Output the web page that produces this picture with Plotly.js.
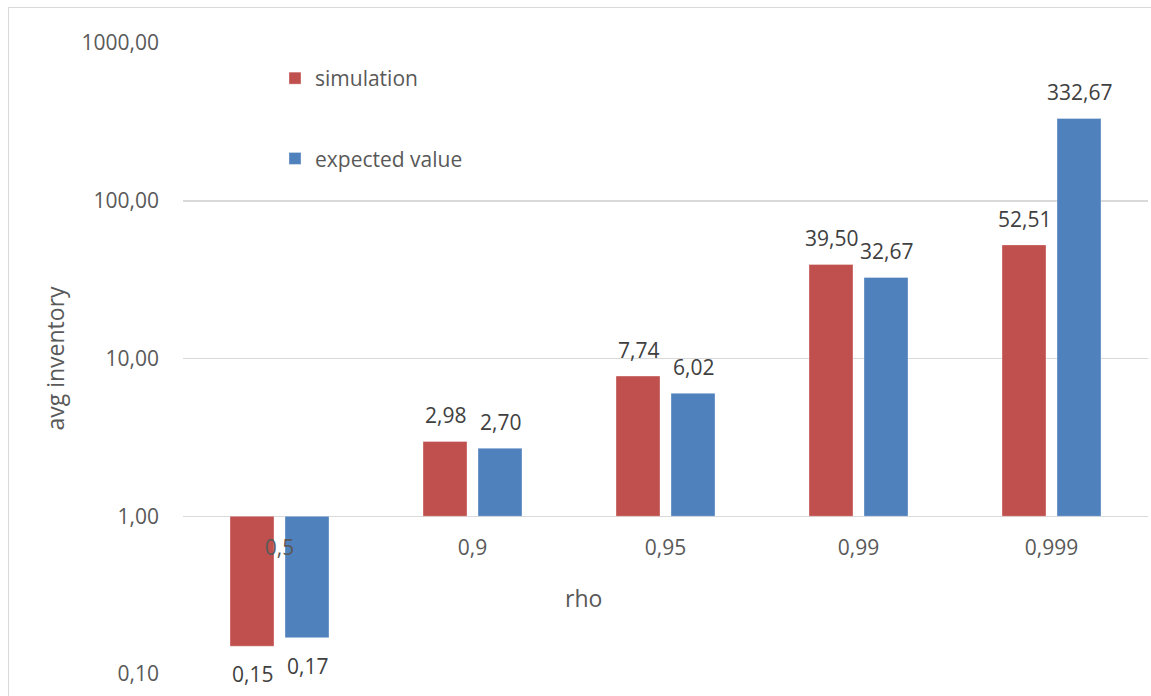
<!DOCTYPE html>
<html>
<head>
<meta charset="utf-8">
<script src="https://cdn.plot.ly/plotly-3.0.1.min.js"></script>
<style>
  html, body { margin: 0; padding: 0; background: #fff; }
  #wrap { position: relative; width: 1151px; height: 696px; overflow: hidden; }
  #chart { position: absolute; left: 0; top: 0; width: 1151px; height: 696px; }
  #frame { position: absolute; left: 8px; top: 7px; width: 1200px; height: 760px;
           border: 1px solid #d9d9d9; pointer-events: none; }
</style>
</head>
<body>
<div id="wrap"><div id="chart"></div><div id="frame"></div></div>
<script>
const rho = ['0,5', '0,9', '0,95', '0,99', '0,999'];
const simulation = [0.15, 2.98, 7.74, 39.50, 52.51];
const expectedValue = [0.17, 2.70, 6.02, 32.67, 332.67];
const yTickVals = [0.1, 1, 10, 100, 1000];
const yTickText = ['0,10', '1,00', '10,00', '100,00', '1000,00'];
const seriesNames = ['simulation', 'expected value'];
const seriesColors = ['#C0504D', '#4F81BD'];

const FONT = 'Open Sans, Noto Sans, sans-serif';
const FS = 21;      // tick labels, legend, data labels
const FT = 23;      // axis titles
const fmt = v => v.toFixed(2).replace('.', ',');

const allSeries = [simulation, expectedValue];
const traces = allSeries.map((vals, i) => ({
  type: 'bar',
  name: seriesNames[i],
  legendgroup: 'g' + i,
  x: rho,
  base: vals.map(() => 1),
  y: vals.map(v => v - 1),
  marker: { color: seriesColors[i], line: { width: 1, color: 'rgba(255,255,255,0.35)' } },
  hoverinfo: 'skip'
}));

const L = 183, R = 1148, T = 43, B = 674;

const annotations = [];
allSeries.forEach((vals, i) => {
  vals.forEach((v, j) => {
    annotations.push({
      x: rho[j], y: Math.log10(v), xref: 'x', yref: 'y',
      text: fmt(v), showarrow: false,
      xshift: i === 0 ? -27.5 : 27.5,
      yshift: v >= 1 ? 26 : -28,
      xanchor: 'center', yanchor: 'middle',
      font: { family: FONT, size: FS, color: '#404040' }
    });
  });
});
annotations.push({
  x: (583 - L) / (R - L), y: (B - 598) / (B - T), xref: 'paper', yref: 'paper',
  xanchor: 'center', yanchor: 'middle',
  text: 'rho', showarrow: false,
  font: { family: FONT, size: FT, color: '#595959' }
});

const layout = {
  width: 1151, height: 696,
  margin: { l: L, r: 1151 - R, t: T, b: 696 - B, pad: 0 },
  paper_bgcolor: '#fff', plot_bgcolor: '#fff',
  font: { family: FONT, size: FS, color: '#595959' },
  barmode: 'group',
  bargap: 0.43,
  bargroupgap: 0.2,
  showlegend: true,
  legend: {
    x: (292 - L - 17) / (R - L), y: (B - 58) / (B - T),
    xanchor: 'left', yanchor: 'top',
    traceorder: 'grouped', tracegroupgap: 50,
    font: { family: FONT, size: FS, color: '#595959' },
    bgcolor: 'rgba(0,0,0,0)', itemwidth: 30
  },
  xaxis: {
    type: 'category',
    anchor: 'free', position: 0.25,
    showgrid: false, showline: false, zeroline: false,
    ticks: '', ticklabelstandoff: 17,
    tickfont: { family: FONT, size: FS, color: '#595959' },
    fixedrange: true
  },
  yaxis: {
    type: 'log',
    range: [-1, 3],
    tickvals: yTickVals, ticktext: yTickText,
    showgrid: true, gridcolor: '#d9d9d9', gridwidth: 1.5,
    showline: false, zeroline: false,
    ticks: '', ticklabelstandoff: 23,
    tickfont: { family: FONT, size: FS, color: '#595959' },
    title: { text: 'avg inventory', standoff: 10, font: { family: FONT, size: FT, color: '#595959' } },
    fixedrange: true
  },
  annotations: annotations
};

Plotly.newPlot('chart', traces, layout, { displayModeBar: false, staticPlot: true });
</script>
</body>
</html>
